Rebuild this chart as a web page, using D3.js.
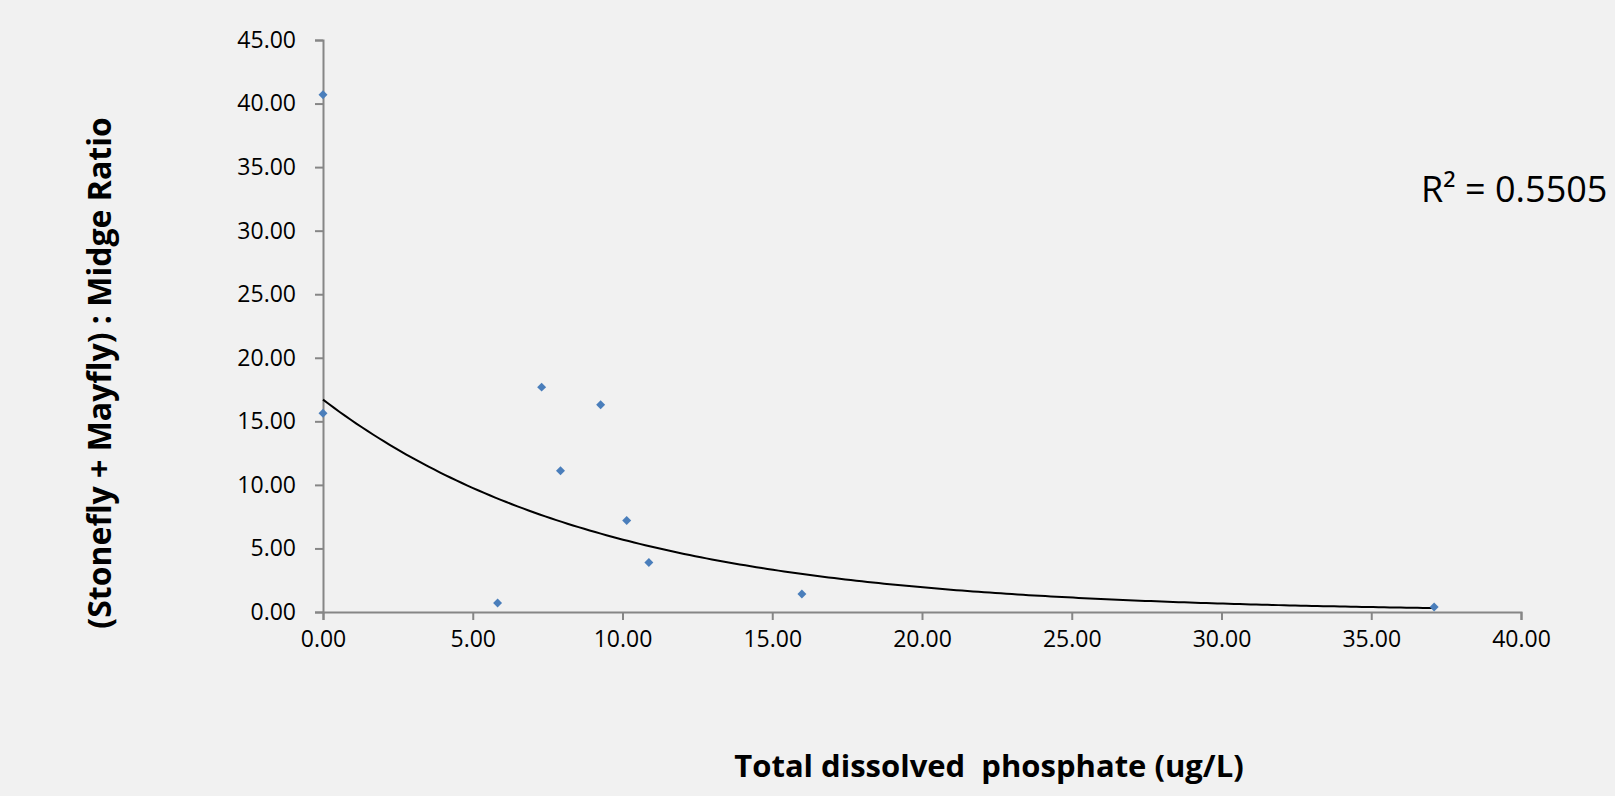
<!DOCTYPE html>
<html>
<head>
<meta charset="utf-8">
<script src="https://cdnjs.cloudflare.com/ajax/libs/d3/7.8.5/d3.min.js"></script>
<style>
  html, body { margin: 0; padding: 0; background: #f1f1f1; }
  #drawing svg { display: block; }
  text { font-family: "Open Sans", "Liberation Sans", sans-serif; fill: #000; }
</style>
</head>
<body>
<div id="drawing"></div>
<script>
// values
var phosphate = [0.00, 0.00, 5.83, 7.30, 7.93, 9.27, 10.14, 10.88, 15.99, 37.10];
var ratio = [40.70, 15.64, 0.71, 17.69, 11.11, 16.30, 7.20, 3.90, 1.42, 0.39];
var xTicks = [0, 5, 10, 15, 20, 25, 30, 35, 40];
var yTicks = [0, 5, 10, 15, 20, 25, 30, 35, 40, 45];
var rSquaredLabel = "R\u00b2 = 0.5505";
var xTitle = "Total dissolved  phosphate (ug/L)";
var yTitle = "(Stonefly + Mayfly) : Midge Ratio";

var chart;
(function (chart) {
    var W = 1615, H = 796;
    var left = 323, right = 1521, top = 40, bottom = 612;
    var svg;

    // exponential trendline, least squares on ln(y) like the spreadsheet does
    function expFit(xs, ys) {
        var n = xs.length, mx = d3.mean(xs);
        var ly = ys.map(function (v) { return Math.log(v); });
        var my = d3.mean(ly);
        var sxy = 0, sxx = 0;
        for (var i = 0; i < n; i++) {
            sxy += (xs[i] - mx) * (ly[i] - my);
            sxx += (xs[i] - mx) * (xs[i] - mx);
        }
        var b = sxy / sxx;
        return { a: Math.exp(my - b * mx), b: b };
    }

    function render() {
        var x = d3.scaleLinear().domain([0, 40]).range([left, right]);
        var y = d3.scaleLinear().domain([0, 45]).range([bottom, top]);
        var fmt = d3.format(".2f");

        var yAxis = svg.append("g")
            .attr("transform", "translate(" + left + ",0)")
            .call(d3.axisLeft(y).tickValues(yTicks).tickFormat(fmt).tickSizeOuter(0).tickSize(8).tickPadding(19));
        var xAxis = svg.append("g")
            .attr("transform", "translate(0," + bottom + ")")
            .call(d3.axisBottom(x).tickValues(xTicks).tickFormat(fmt).tickSizeOuter(0).tickSize(8).tickPadding(11));

        [xAxis, yAxis].forEach(function (g) {
            g.select(".domain").attr("stroke", "#868686").attr("stroke-width", 2);
            g.selectAll(".tick line").attr("stroke", "#868686").attr("stroke-width", 2);
            g.selectAll(".tick text")
                .attr("font-family", "'Open Sans', sans-serif")
                .attr("font-size", 23)
                .attr("fill", "#000");
        });

        // trendline
        var fit = expFit(phosphate, ratio);
        var xmax = d3.max(phosphate);
        var pts = d3.range(0, 201).map(function (i) { return xmax * i / 200; });
        var line = d3.line()
            .x(function (d) { return x(d); })
            .y(function (d) { return y(fit.a * Math.exp(fit.b * d)); });
        svg.append("path")
            .datum(pts)
            .attr("d", line)
            .attr("fill", "none")
            .attr("stroke", "#000")
            .attr("stroke-width", 2);

        // markers
        var diamond = d3.symbol().type(d3.symbolSquare).size(40);
        svg.selectAll(".pt")
            .data(phosphate.map(function (v, i) { return [v, ratio[i]]; }))
            .enter()
            .append("path")
            .attr("class", "pt")
            .attr("d", diamond)
            .attr("transform", function (d) { return "translate(" + x(d[0]) + "," + y(d[1]) + ") rotate(45)"; })
            .attr("fill", "#4a7ebb");

        svg.append("text")
            .attr("x", 1421)
            .attr("y", 202)
            .attr("font-size", 36)
            .text(rSquaredLabel);

        svg.append("text")
            .attr("x", 989)
            .attr("y", 777)
            .attr("text-anchor", "middle")
            .attr("font-size", 31)
            .attr("font-weight", "bold")
            .style("white-space", "pre")
            .text(xTitle);

        svg.append("text")
            .attr("transform", "translate(111,373) rotate(-90)")
            .attr("text-anchor", "middle")
            .attr("font-size", 32)
            .attr("font-weight", "bold")
            .text(yTitle);
    }

    function main() {
        svg = d3.select("#drawing").append("svg")
            .attr("width", W)
            .attr("height", H);
        svg.append("rect").attr("width", W).attr("height", H).attr("fill", "#f1f1f1");
        render();
    }
    chart.main = main;
})(chart || (chart = {}));
chart.main();
</script>
</body>
</html>
